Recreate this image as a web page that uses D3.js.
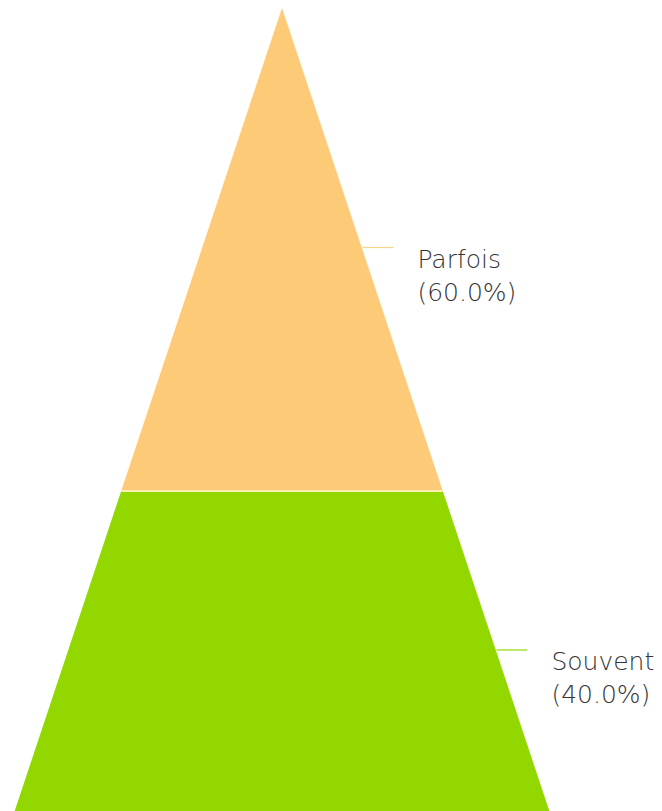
<!DOCTYPE html>
<html>
<head>
<meta charset="utf-8">
<title>Pyramide</title>
<style type="text/css">
	body { margin: 0; background: #fff; }
	#chart { display: block; }
	.label {
		font-family: "DejaVu Sans", sans-serif;
		font-weight: 200;
		font-size: 25px;
		fill: #333333;
	}
</style>
</head>
<body>

<svg id="chart" width="662" height="811"></svg>

<script src="https://cdn.jsdelivr.net/npm/d3@7/dist/d3.min.js"></script>
<script>

var categories = ['Parfois', 'Souvent'];
var values = [60, 40];
var colors = ['#FDCB78', '#92D800'];
var leaderColors = ['#F6D58A', '#92D800'];

var svg = d3.select('#chart');

var apexX = 282,
	apexY = 8,
	baseY = 813,
	halfBase = 268,
	leaderLen = 31,
	textGap = 24,
	lineGap = 33;

var total = d3.sum(values);

// cumulative share -> vertical position
var y = d3.scaleLinear().domain([0, total]).range([apexY, baseY]);
// cumulative share -> half width of the pyramid
var w = d3.scaleLinear().domain([0, total]).range([0, halfBase]);

var segs = [];
var run = 0;
for (var i = 0; i < values.length; i++) {
	segs.push({name: categories[i], value: values[i], start: run, end: run + values[i], i: i});
	run += values[i];
}

svg.selectAll('.seg')
	.data(segs)
	.enter()
	.append('path')
	.classed('seg', true)
	.attr('fill', function(d) { return colors[d.i]; })
	.attr('d', function(d) {
		var y0 = y(d.start), y1 = y(d.end);
		return 'M' + (apexX - w(d.start)) + ',' + y0 +
			'L' + (apexX + w(d.start)) + ',' + y0 +
			'L' + (apexX + w(d.end)) + ',' + y1 +
			'L' + (apexX - w(d.end)) + ',' + y1 + 'Z';
	});

// thin pale separator between segments
svg.selectAll('.sep')
	.data(segs.slice(1))
	.enter()
	.append('line')
	.classed('sep', true)
	.attr('x1', function(d) { return apexX - w(d.start); })
	.attr('x2', function(d) { return apexX + w(d.start); })
	.attr('y1', function(d) { return y(d.start); })
	.attr('y2', function(d) { return y(d.start); })
	.attr('stroke', '#FBF0B0')
	.attr('stroke-width', 2);

var lab = svg.selectAll('.lab')
	.data(segs)
	.enter()
	.append('g')
	.classed('lab', true);

function midY(d) { return y((d.start + d.end) / 2) - 2; }
function edgeX(d) { return apexX + w((d.start + d.end) / 2); }

lab.append('line')
	.attr('x1', edgeX)
	.attr('x2', function(d) { return edgeX(d) + leaderLen; })
	.attr('y1', midY)
	.attr('y2', midY)
	.attr('stroke', function(d) { return leaderColors[d.i]; })
	.attr('stroke-width', 1.2);

lab.append('text')
	.classed('label', true)
	.attr('x', function(d) { return edgeX(d) + leaderLen + textGap; })
	.attr('y', function(d) { return midY(d) + 20; })
	.text(function(d) { return d.name; });

lab.append('text')
	.classed('label', true)
	.attr('x', function(d) { return edgeX(d) + leaderLen + textGap; })
	.attr('y', function(d) { return midY(d) + 20 + lineGap; })
	.text(function(d) { return '(' + (d.value / total * 100).toFixed(1) + '%)'; });

</script>
</body>
</html>
